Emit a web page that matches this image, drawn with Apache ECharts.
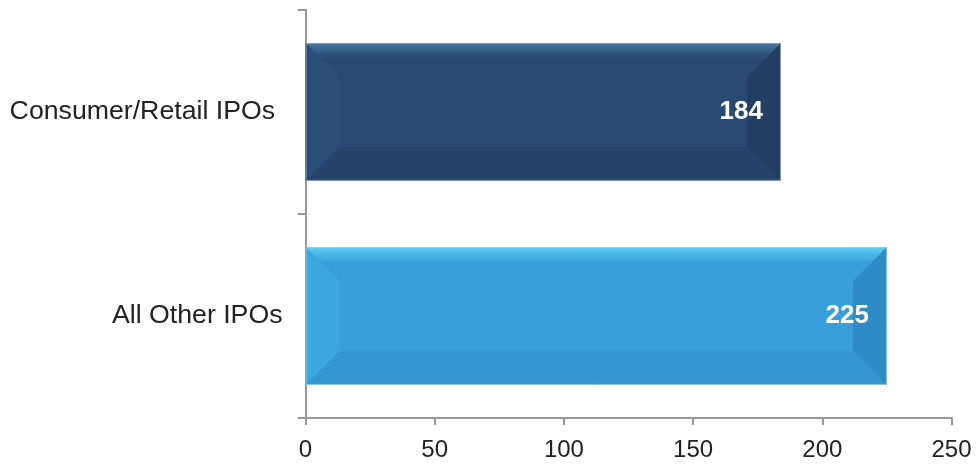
<!DOCTYPE html>
<html>
<head>
<meta charset="utf-8">
<script src="https://cdn.jsdelivr.net/npm/echarts@6/dist/echarts.min.js"></script>
<style>
html,body{margin:0;padding:0;background:#fff;}
#chart{width:979px;height:464px;}
</style>
</head>
<body>
<div id="chart"></div>
<script>
// ---- data ----
const categories = ['Consumer/Retail IPOs ', 'All Other IPOs'];
const values = [184, 225];
const xTicks = [0, 50, 100, 150, 200, 250];

// ---- styles ----
const palettes = [
  {main: '#284a72', top: '#4576a6', left: '#2b4e79', right: '#223f63', bottom: '#25456c', edge: 'rgba(150,165,180,0.9)'},
  {main: '#389fd9', top: '#5ccff4', left: '#3ba7e0', right: '#2e8bc5', bottom: '#3497d1', edge: 'rgba(150,205,230,0.9)'}
];

const chart = echarts.init(document.getElementById('chart'));
const FONT = '"Liberation Sans", Arial, sans-serif';

function renderItem(params, api) {
  const idx = api.value(1);
  const val = api.value(0);
  const end = api.coord([val, idx]);
  const start = api.coord([0, idx]);
  const band = api.size([0, 1])[1];
  const h = band * 0.676;
  const x0 = start[0], x1 = end[0];
  const y0 = end[1] - h / 2, y1 = end[1] + h / 2;
  const b = 34;
  const p = palettes[idx];
  const topGrad = new echarts.graphic.LinearGradient(0, 0, 0, 1, [
    {offset: 0, color: p.top}, {offset: 0.45, color: p.main}, {offset: 1, color: p.main}
  ]);
  return {
    type: 'group',
    children: [
      {type: 'rect', shape: {x: x0, y: y0, width: x1 - x0, height: h}, style: {fill: p.main}},
      {type: 'polygon', shape: {points: [[x0, y1], [x1, y1], [x1 - b, y1 - b], [x0 + b, y1 - b]]}, style: {fill: p.bottom}},
      {type: 'polygon', shape: {points: [[x0, y0], [x0 + b, y0 + b], [x0 + b, y1 - b], [x0, y1]]}, style: {fill: p.left}},
      {type: 'polygon', shape: {points: [[x1, y0], [x1 - b, y0 + b], [x1 - b, y1 - b], [x1, y1]]}, style: {fill: p.right}},
      {type: 'polygon', shape: {points: [[x0, y0], [x1, y0], [x1 - b, y0 + b], [x0 + b, y0 + b]]}, style: {fill: topGrad}},
      {type: 'rect', shape: {x: x0 + 0.5, y: y0 + 0.5, width: x1 - x0 - 1, height: h - 1}, style: {fill: 'none', stroke: p.edge, lineWidth: 1}},
      {type: 'text', style: {text: String(val), x: x1 - 18, y: end[1], align: 'right', verticalAlign: 'middle', fill: '#ffffff', font: 'bold 26px ' + FONT}}
    ]
  };
}

chart.setOption({
  animation: false,
  grid: {left: 305.5, right: 27.5, top: 10, bottom: 46, containLabel: false},
  xAxis: {
    type: 'value', min: xTicks[0], max: xTicks[xTicks.length - 1], interval: 50,
    splitLine: {show: false},
    axisLine: {show: true, lineStyle: {color: '#999', width: 2}},
    axisTick: {show: true, length: 7, lineStyle: {color: '#999', width: 2}},
    axisLabel: {fontSize: 24, color: '#222', fontFamily: FONT, margin: 20}
  },
  yAxis: {
    type: 'category', data: categories, inverse: true,
    axisLine: {show: true, lineStyle: {color: '#999', width: 2}},
    axisTick: {show: true, length: 8, alignWithLabel: false, lineStyle: {color: '#999', width: 2}},
    axisLabel: {fontSize: 26.7, color: '#222', fontFamily: FONT, margin: 23}
  },
  series: [{
    type: 'custom',
    renderItem: renderItem,
    encode: {x: 0, y: 1},
    data: values.map((v, i) => [v, i])
  }]
});
</script>
</body>
</html>
